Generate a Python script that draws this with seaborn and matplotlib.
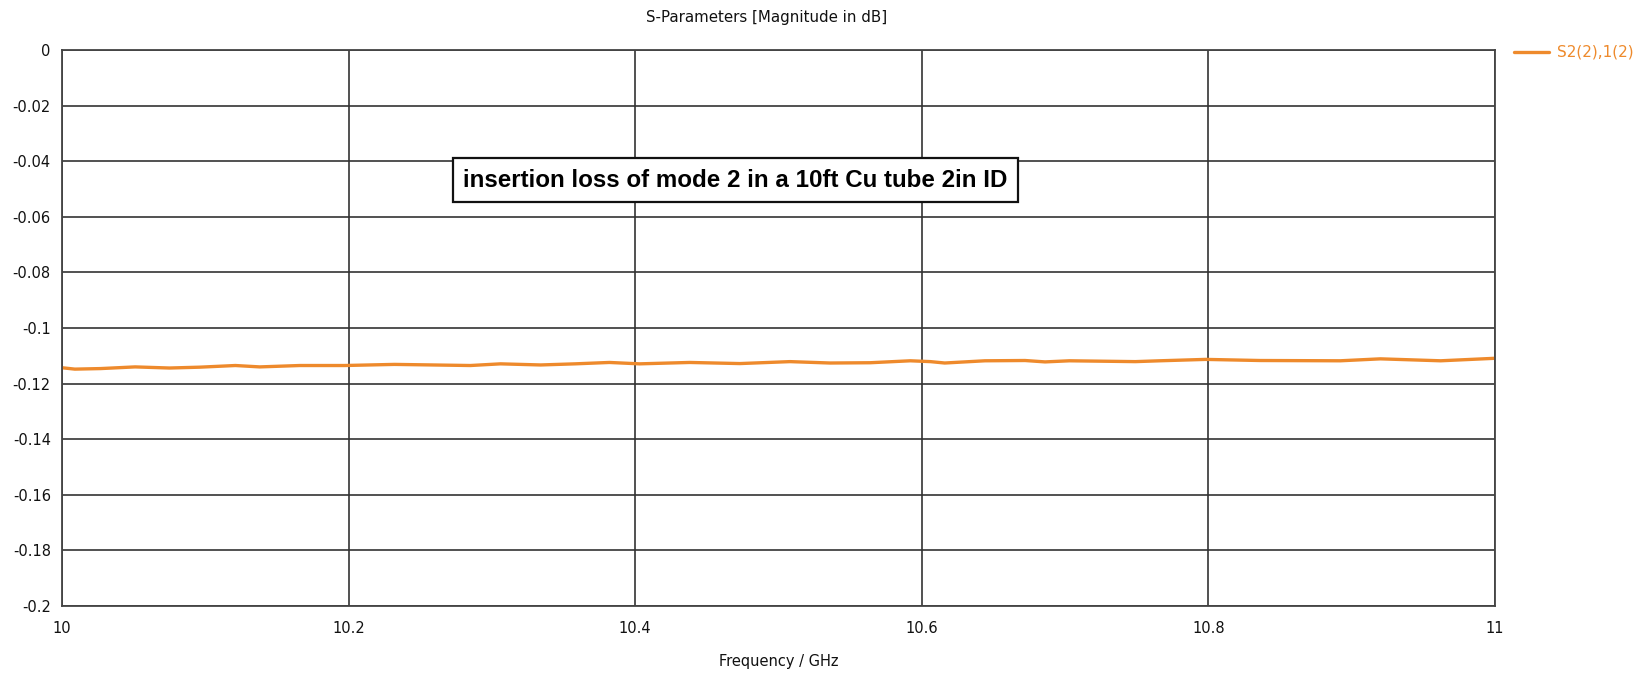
import pandas as pd
import matplotlib.pyplot as plt
import seaborn as sns

# S21 magnitude
freq_ghz = [10.000, 10.009, 10.027, 10.051, 10.075, 10.096, 10.121, 10.138, 10.166, 10.197,
            10.232, 10.285, 10.306, 10.334, 10.358, 10.382, 10.403, 10.438, 10.473, 10.508,
            10.536, 10.564, 10.592, 10.606, 10.616, 10.644, 10.672, 10.686, 10.703, 10.749,
            10.766, 10.798, 10.836, 10.892, 10.920, 10.962, 11.000]
s21_db = [-0.1143, -0.1148, -0.1146, -0.1140, -0.1144, -0.1141, -0.1135, -0.1140, -0.1135, -0.1135,
          -0.1131, -0.1135, -0.1129, -0.1133, -0.1129, -0.1124, -0.1129, -0.1124, -0.1128, -0.1121,
          -0.1126, -0.1125, -0.1118, -0.1121, -0.1126, -0.1118, -0.1117, -0.1122, -0.1118, -0.1121,
          -0.1118, -0.1113, -0.1117, -0.1118, -0.1111, -0.1118, -0.1109]
series_name = "S2(2),1(2)"
x_ticks = [10, 10.2, 10.4, 10.6, 10.8, 11]
y_ticks = [0, -0.02, -0.04, -0.06, -0.08, -0.1, -0.12, -0.14, -0.16, -0.18, -0.2]

df = pd.DataFrame({"freq": freq_ghz, "s21": s21_db})

sns.set_style("white")
plt.rcParams["font.family"] = ["DejaVu Sans"]

fig = plt.figure(figsize=(16.44, 6.73), dpi=100)
ax = fig.add_axes([0.0377, 0.0996, 0.8717, 0.8261])

orange = "#EE8A2C"
sns.lineplot(data=df, x="freq", y="s21", ax=ax, color=orange, linewidth=2.4,
             label=series_name)

ax.set_xlim(10, 11)
ax.set_ylim(-0.2, 0)
ax.set_xticks(x_ticks)
ax.set_xticklabels([f"{v:g}" for v in x_ticks])
ax.set_yticks(y_ticks)
ax.set_yticklabels([f"{v:g}" for v in y_ticks])
ax.grid(True, color="#333333", linewidth=1.2)
for sp in ax.spines.values():
    sp.set_color("#444444")
    sp.set_linewidth(1.3)
ax.tick_params(axis="both", direction="out", length=5, width=1.2, color="#444444",
               labelsize=10.5, labelcolor="#111111", pad=3)
ax.tick_params(axis="x", pad=6)

ax.set_xlabel("Frequency / GHz", fontsize=10.5, color="#111111", labelpad=13)
ax.set_ylabel("")
ax.set_title("S-Parameters [Magnitude in dB]", fontsize=10.8, color="#111111", pad=20, x=0.492)

ax.text(10.470, -0.0468, "insertion loss of mode 2 in a 10ft Cu tube 2in ID",
        ha="center", va="center", fontsize=17.4, fontweight="bold",
        family=["Liberation Sans", "DejaVu Sans"], color="black",
        bbox=dict(boxstyle="square,pad=0.42", facecolor="white", edgecolor="#111111", linewidth=1.6))

leg = ax.legend(loc="upper left", bbox_to_anchor=(1.009, 1.02), frameon=False,
                fontsize=11, handlelength=2.3, handletextpad=0.5, borderaxespad=0)
for t in leg.get_texts():
    t.set_color(orange)

fig.savefig("out.png", dpi=100, facecolor="white")
